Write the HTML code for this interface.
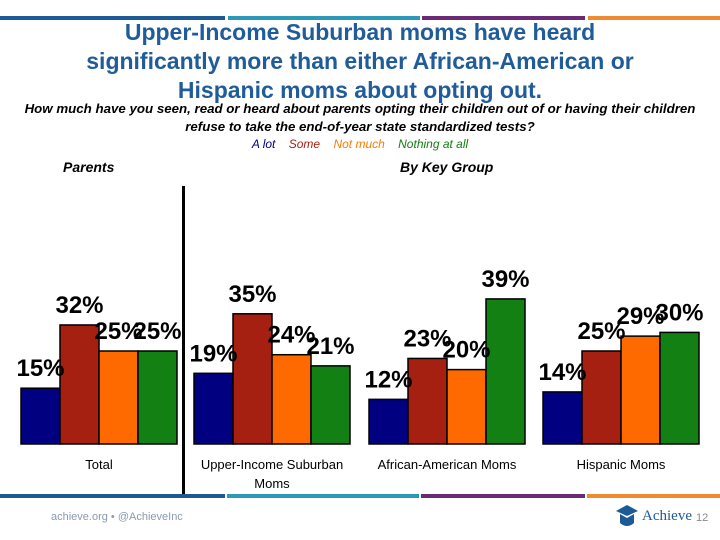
<!DOCTYPE html>
<html><head><meta charset="utf-8"><style>
body{margin:0;width:720px;height:540px;background:#fff;position:relative;overflow:hidden;font-family:"Liberation Sans",sans-serif}
.abs{position:absolute}
.title{left:0;width:720px;top:18px;text-align:center;color:#1f5c99;font-size:23px;font-weight:bold;line-height:29px;font-family:"Liberation Sans",sans-serif}
.sub{left:0;width:720px;top:100px;text-align:center;font-style:italic;font-weight:bold;font-size:13.3px;line-height:18px;color:#000;font-family:"Liberation Sans",sans-serif}
</style></head><body>
<div class="abs" style="left:0;top:16px;width:720px;height:4px">
<div class="abs" style="left:0;width:225px;height:4px;background:#1c5a96"></div>
<div class="abs" style="left:228px;width:192px;height:4px;background:#2b9ab8"></div>
<div class="abs" style="left:422px;width:163px;height:4px;background:#6a2a78"></div>
<div class="abs" style="left:588px;width:132px;height:4px;background:#ef8a30"></div>
</div>
<div class="abs title">Upper-Income Suburban moms have heard<br>significantly more than either African-American or<br>Hispanic moms about opting out.</div>
<div class="abs sub">How much have you seen, read or heard about parents opting their children out of or having their children<br>refuse to take the end-of-year state standardized tests?</div>
<div class="abs" style="left:0;width:720px;top:137px;text-align:center;font-size:12px;font-style:italic">
<span style="color:#000080">A lot</span>&nbsp;&nbsp;&nbsp;
<span style="color:#a52010">Some</span>&nbsp;&nbsp;&nbsp;
<span style="color:#ff7a00">Not much</span>&nbsp;&nbsp;&nbsp;
<span style="color:#128012">Nothing at all</span></div>
<div class="abs" style="left:63px;top:159px;font-size:14px;font-style:italic;font-weight:bold">Parents</div>
<div class="abs" style="left:400px;top:159px;font-size:14px;font-style:italic;font-weight:bold">By Key Group</div>
<div class="abs" style="left:182px;top:186px;width:3px;height:310px;background:#000"></div>
<svg class="abs" id="chart" style="left:0;top:0" width="720" height="540"></svg>
<div class="abs" style="left:0;top:494px;width:720px;height:4px">
<div class="abs" style="left:0;width:225px;height:4px;background:#1c5a96"></div>
<div class="abs" style="left:227px;width:192px;height:4px;background:#2b9ab8"></div>
<div class="abs" style="left:421px;width:164px;height:4px;background:#6a2a78"></div>
<div class="abs" style="left:587px;width:133px;height:4px;background:#ef8a30"></div>
</div>
<div class="abs" style="left:51px;top:511px;font-size:11px;color:#8a9ab0">achieve.org • @AchieveInc</div>
<div class="abs" style="left:614px;top:503px;width:26px;height:26px">
<svg width="26" height="28"><polygon points="2,8 13,2 24,8 13,13" fill="#1c5a96"/><path d="M6,11 L6,20 Q13,26 20,20 L20,11 L13,15 Z" fill="#1c5a96"/></svg></div>
<div class="abs" style="left:642px;top:508px;font-size:15px;color:#1c5a96;font-family:'Liberation Serif',serif">Achieve</div>
<div class="abs" style="left:696px;top:512px;font-size:11px;color:#888">12</div>
<script>
const categories=["Total","Upper-Income Suburban","African-American Moms","Hispanic Moms"];
const catLine2=["","Moms","",""];
const aLot=[15,19,12,14];
const some=[32,35,23,25];
const notMuch=[25,24,20,29];
const nothing=[25,21,39,30];
const series=[aLot,some,notMuch,nothing];
const colors=["#000080","#a52010","#ff6a00","#128012"];
const groupX=[21,194,369,543];
const barW=39, base=444, pxPer=3.72;
const y=v=>base-v*pxPer;
const svg=document.getElementById('chart');
const NS="http://www.w3.org/2000/svg";
categories.forEach((c,g)=>{
  series.forEach((s,i)=>{
    const x=groupX[g]+i*barW, v=s[g];
    const r=document.createElementNS(NS,'rect');
    
    
    r.setAttribute('x',x);r.setAttribute('y',y(v));r.setAttribute('width',barW);r.setAttribute('height',base-y(v));
    r.setAttribute('fill',colors[i]);r.setAttribute('stroke','#000');r.setAttribute('stroke-width','1.5');
    svg.appendChild(r);
  });
  series.forEach((s,i)=>{
    const x=groupX[g]+i*barW, v=s[g];
    const t=document.createElementNS(NS,'text');
    
    
    t.setAttribute('x',x+barW/2);t.setAttribute('y',y(v)-12);t.setAttribute('text-anchor','middle');
    t.setAttribute('font-size','24');t.setAttribute('font-weight','bold');t.setAttribute('font-family','Liberation Sans, sans-serif');
    t.textContent=v+'%';svg.appendChild(t);
  });
  const cx=groupX[g]+barW*2;
  [c,catLine2[g]].forEach((line,k)=>{
    if(!line)return;
    const t=document.createElementNS(NS,'text');
    
    
    t.setAttribute('x',cx);t.setAttribute('y',469+k*19);t.setAttribute('text-anchor','middle');
    t.setAttribute('font-size','13');t.setAttribute('font-family','Liberation Sans, sans-serif');
    t.textContent=line;svg.appendChild(t);
  });
});
</script>
</body></html>
